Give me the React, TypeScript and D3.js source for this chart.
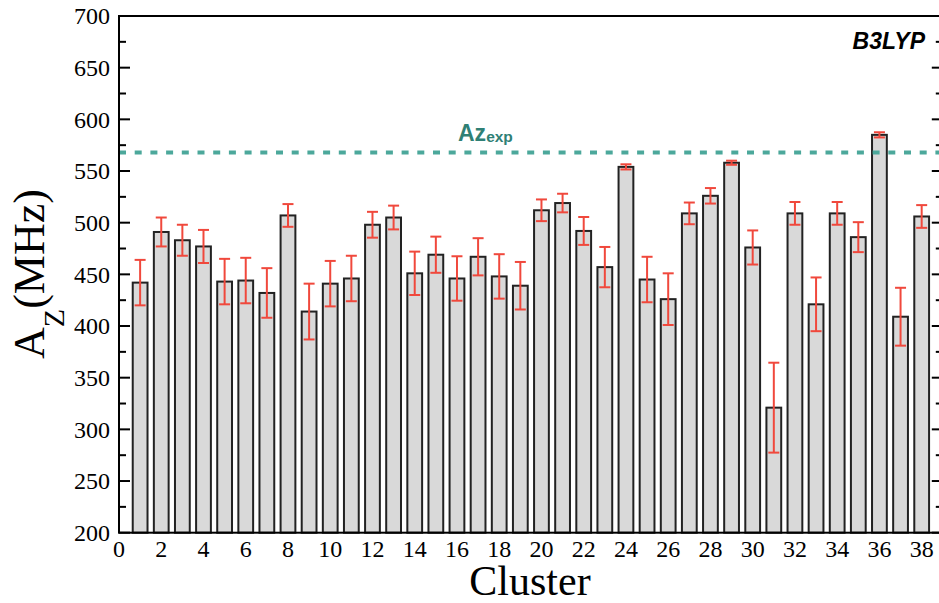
import React from "react";
import * as d3 from "d3";

const clusters = [1,2,3,4,5,6,7,8,9,10,11,12,13,14,15,16,17,18,19,20,21,22,23,24,25,26,27,28,29,30,31,32,33,34,35,36,37,38];
const azValues = [442,491,483,477,443,444,432,507,414,441,446,498,505,451,469,446,467,448,439,512,519,492,457,554,445,426,509,526,558,476,321,509,421,509,486,585,409,506];
const azErrors = [22,14,15,16,22,22,24,11,27,22,22,12.5,11.5,21,17.5,21.5,18,21.5,23,10.5,9,13.5,19.5,2.5,22,25,10.5,7.5,2,16.5,43.5,11,26,11,14.5,2.5,28,11];
const azExp = 568;
const yTickValues = [200,250,300,350,400,450,500,550,600,650,700];
const yMinorValues = [225,275,325,375,425,475,525,575,625,675];
const xTickValues = [0,2,4,6,8,10,12,14,16,18,20,22,24,26,28,30,32,34,36,38];

const W = 939, H = 603;
const left = 119, right = 942.8, top = 16, bottom = 532.7;
const serif = "'Liberation Serif', 'Times New Roman', serif";
const sans = "'Liberation Sans', Arial, sans-serif";

export default function App() {
  const x = d3.scaleLinear().domain([0, 39]).range([left, right]);
  const y = d3.scaleLinear().domain([200, 700]).range([bottom, top]);
  const bw = x(0.7) - x(0);
  const capW = 11;
  return (
    <svg width={W} height={H} style={{ position: "absolute", left: 0, top: 0, background: "#fff" }}>
      {/* ticks */}
      {yTickValues.map((v) => (
        <g key={"yt" + v}>
          <line x1={left} x2={left + 11} y1={y(v)} y2={y(v)} stroke="#000" strokeWidth={2} />
          <line x1={right} x2={right - 11} y1={y(v)} y2={y(v)} stroke="#000" strokeWidth={2} />
          <text x={110} y={y(v)} dy="0.35em" textAnchor="end" fontFamily={serif} fontSize={24} fill="#000">{v}</text>
        </g>
      ))}
      {yMinorValues.map((v) => (
        <g key={"ym" + v}>
          <line x1={left} x2={left + 7} y1={y(v)} y2={y(v)} stroke="#000" strokeWidth={2} />
          <line x1={right} x2={right - 7} y1={y(v)} y2={y(v)} stroke="#000" strokeWidth={2} />
        </g>
      ))}
      {xTickValues.map((v) => (
        <text key={"xt" + v} x={x(v)} y={557} textAnchor="middle" fontFamily={serif} fontSize={24} fill="#000">{v}</text>
      ))}
      {/* bars */}
      {clusters.map((c, i) => (
        <rect key={"b" + c} x={x(c) - bw / 2} y={y(azValues[i])} width={bw} height={bottom - y(azValues[i])}
          fill="#d9d9d9" stroke="#222" strokeWidth={2} />
      ))}
      {/* error bars */}
      {clusters.map((c, i) => {
        const hi = y(azValues[i] + azErrors[i]);
        const lo = y(azValues[i] - azErrors[i]);
        const cx = x(c);
        return (
          <g key={"e" + c} stroke="#f0483c" strokeWidth={2}>
            <line x1={cx} x2={cx} y1={hi} y2={lo} />
            <line x1={cx - capW / 2} x2={cx + capW / 2} y1={hi} y2={hi} />
            <line x1={cx - capW / 2} x2={cx + capW / 2} y1={lo} y2={lo} />
          </g>
        );
      })}
      {/* experimental line */}
      <line x1={left} x2={right} y1={y(azExp)} y2={y(azExp)} stroke="#4ca89b" strokeWidth={4} strokeDasharray="7,8.7" />
      <text x={458} y={140.5} fontFamily={sans} fontWeight="bold" fill="#2f8075">
        <tspan fontSize={23}>Az</tspan>
        <tspan fontSize={15.5} dy={1}>exp</tspan>
      </text>
      <text x={925} y={49} textAnchor="end" fontFamily={sans} fontWeight="bold" fontStyle="italic" fontSize={23} fill="#000">B3LYP</text>
      {/* frame */}
      <rect x={left} y={top} width={right - left} height={bottom - top} fill="none" stroke="#000" strokeWidth={2} />
      {/* axis titles */}
      <text x={530} y={594.5} textAnchor="middle" fontFamily={serif} fontSize={42} fill="#000">Cluster</text>
      <g transform={`translate(44, 274) rotate(-90)`}>
        <text x={0} y={0} textAnchor="middle" fontFamily={serif} fill="#000">
          <tspan fontSize={44}>A</tspan>
          <tspan fontSize={30} dy={20}>Z</tspan>
          <tspan fontSize={44} dy={-20}>(MHz)</tspan>
        </text>
      </g>
    </svg>
  );
}
